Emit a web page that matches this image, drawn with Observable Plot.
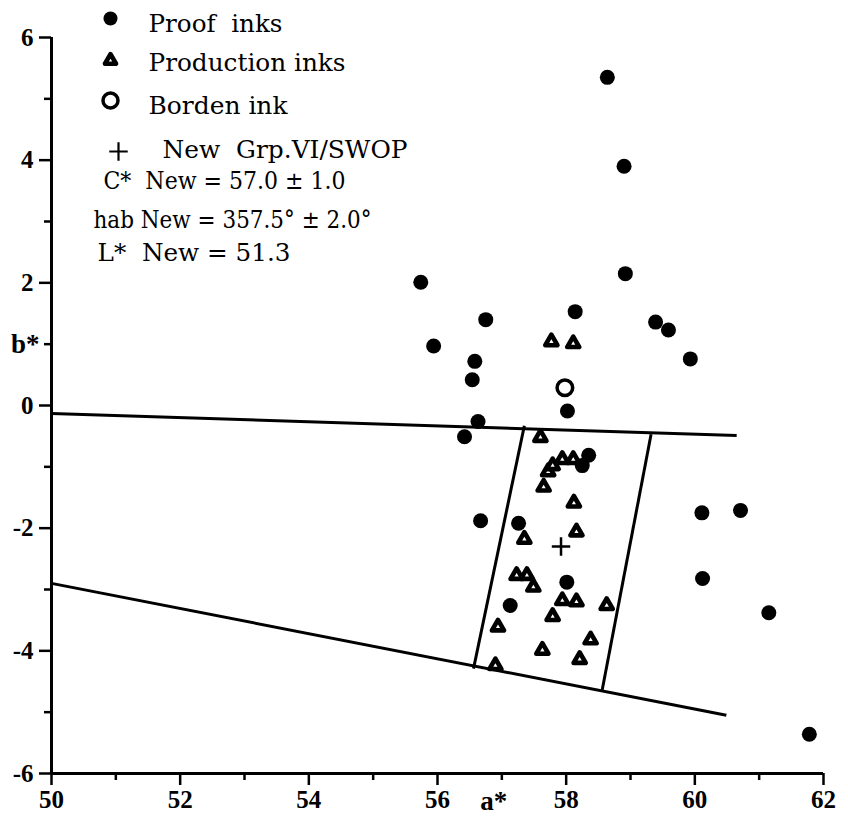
<!DOCTYPE html>
<html>
<head>
<meta charset="utf-8">
<script src="https://cdn.jsdelivr.net/npm/d3@7"></script>
<script src="https://cdn.jsdelivr.net/npm/@observablehq/plot@0.6"></script>
<style>
  html, body { margin: 0; padding: 0; background: #fff; }
  #chart { width: 848px; height: 829px; }
</style>
</head>
<body>
<div id="chart"></div>
<script>
// ---- Data (a*, b*) ----
const proofA = [58.64, 58.90, 58.92, 55.74, 58.14, 56.75, 55.94, 59.39, 59.59, 59.93, 56.58, 56.54, 58.02, 56.63, 56.42, 58.35, 58.25, 56.67, 57.26, 58.01, 57.13, 60.11, 60.71, 60.12, 61.15, 61.78];
const proofB = [5.35, 3.90, 2.15, 2.01, 1.53, 1.40, 0.97, 1.36, 1.23, 0.76, 0.72, 0.42, -0.09, -0.26, -0.51, -0.81, -0.98, -1.88, -1.92, -2.88, -3.26, -1.75, -1.71, -2.82, -3.38, -5.36];

const prodA = [57.77, 58.11, 57.60, 57.72, 57.79, 57.94, 58.11, 57.65, 58.12, 58.16, 57.35, 57.23, 57.39, 57.49, 57.94, 58.16, 58.63, 57.79, 56.94, 58.38, 57.63, 58.21, 56.90];
const prodB = [1.04, 1.01, -0.52, -1.08, -0.98, -0.88, -0.88, -1.33, -1.59, -2.06, -2.18, -2.77, -2.77, -2.96, -3.18, -3.20, -3.26, -3.44, -3.61, -3.82, -3.99, -4.14, -4.24];

const bordenA = [57.98];
const bordenB = [0.29];

const newA = [57.92];
const newB = [-2.30];

// tolerance boundary segments: [a1, b1] -> [a2, b2]
const boundaryA1 = [50.00, 50.00, 57.35, 59.32];
const boundaryB1 = [-0.13, -2.90, -0.33, -0.47];
const boundaryA2 = [60.65, 60.49, 56.56, 58.56];
const boundaryB2 = [-0.49, -5.05, -4.29, -4.64];

// ticks
const xMajorTicks = [50, 52, 54, 56, 58, 60, 62];
const xMinorTicks = [51, 53, 55, 57, 59, 61];
const yMajorTicks = [6, 4, 2, 0, -2, -4, -6];
const yMinorTicks = [5, 3, 1, -1, -3, -5];
const xLabel = "a*";
const yLabel = "b*";
const xLabelAt = 57;
const yLabelAt = 1;

const legendLabels = [
  "Proof\u00a0\u00a0inks",
  "Production inks",
  "Borden ink",
  "New\u00a0\u00a0Grp.VI/SWOP",
  "C*\u00a0\u00a0New = 57.0 \u00b1 1.0",
  "hab\u00a0New = 357.5\u00b0 \u00b1 2.0\u00b0",
  "L*\u00a0\u00a0New = 51.3"
];

// ---- tables ----
const zipAB = (A, B) => A.map((a, i) => ({a, b: B[i]}));
const proof = zipAB(proofA, proofB);
const prod = zipAB(prodA, prodB);
const borden = zipAB(bordenA, bordenB);
const newPt = zipAB(newA, newB);
const segs = boundaryA1.map((a1, i) => ({a1, b1: boundaryB1[i], a2: boundaryA2[i], b2: boundaryB2[i]}));

const serif = "Liberation Serif";
const legendFont = "DejaVu Serif";
const tickFont = {fontFamily: serif, fontWeight: "bold", fontSize: 25};

// legend layout (pixel offsets from the frame's top-left) and rendered widths
const legendOffsets = [[97, -6], [97, 33], [97, 76], [111, 120], [52, 151], [42, 190], [46, 223]];
const legendWidths = [134, 197, 139, 245, 242, 278, 193];

const legendMarks = legendLabels.map((t, i) => Plot.text([t], {
  text: d => d,
  frameAnchor: "top-left",
  dx: legendOffsets[i][0],
  dy: legendOffsets[i][1],
  textAnchor: "start",
  lineAnchor: "bottom",
  fontFamily: legendFont,
  fontSize: 24.5,
  fill: "black",
  className: "legend-row-" + i
}));

const chart = Plot.plot({
  width: 848,
  height: 829,
  marginLeft: 51,
  marginRight: 25,
  marginTop: 37,
  marginBottom: 56,
  x: {domain: [50, 62]},
  y: {domain: [-6, 6]},
  style: {background: "white", color: "black", fontFamily: serif, overflow: "visible"},
  marks: [
    // axes
    Plot.axisX({ticks: xMajorTicks, tickSize: 12, tickPadding: 5, tickFormat: d => String(d), strokeWidth: 2.5, label: null, ...tickFont}),
    Plot.axisX({ticks: xMinorTicks, tickSize: 7, tickFormat: () => "", strokeWidth: 2.5, label: null}),
    Plot.axisY({ticks: yMajorTicks, tickSize: 12, tickPadding: 6, tickFormat: d => String(d), strokeWidth: 2.5, label: null, ...tickFont}),
    Plot.axisY({ticks: yMinorTicks, tickSize: 7, tickFormat: () => "", strokeWidth: 2.5, label: null}),
    Plot.ruleX([50], {strokeWidth: 3}),
    Plot.ruleY([-6], {strokeWidth: 3}),
    Plot.text([xLabelAt], {x: d => d, text: () => xLabel, frameAnchor: "bottom", dy: 17, dx: -8, lineAnchor: "top", fontFamily: serif, fontWeight: "bold", fontSize: 27}),
    Plot.text([yLabelAt], {y: d => d, text: () => yLabel, frameAnchor: "left", dx: -12, textAnchor: "end", fontFamily: serif, fontWeight: "bold", fontSize: 27}),
    // tolerance boundaries
    Plot.link(segs, {x1: "a1", y1: "b1", x2: "a2", y2: "b2", stroke: "black", strokeWidth: 3}),
    // data
    Plot.dot(proof, {x: "a", y: "b", r: 7.5, fill: "black", stroke: "none"}),
    Plot.dot(prod, {x: "a", y: "b", symbol: "triangle", r: 4.5, fill: "white", stroke: "black", strokeWidth: 4.6, strokeLinejoin: "round"}),
    Plot.dot(borden, {x: "a", y: "b", r: 7.8, fill: "white", stroke: "black", strokeWidth: 3.5}),
    Plot.dot(newPt, {x: "a", y: "b", symbol: "plus", r: 6, stroke: "black", strokeWidth: 2.5}),
    // legend markers
    Plot.dot([0], {frameAnchor: "top-left", dx: 59, dy: -19, r: 7, fill: "black", stroke: "none"}),
    Plot.dot([0], {frameAnchor: "top-left", dx: 59, dy: 23, symbol: "triangle", r: 4.1, fill: "white", stroke: "black", strokeWidth: 4.6, strokeLinejoin: "round"}),
    Plot.dot([0], {frameAnchor: "top-left", dx: 59, dy: 63, r: 7.5, fill: "white", stroke: "black", strokeWidth: 3.5}),
    Plot.dot([0], {frameAnchor: "top-left", dx: 67, dy: 114, symbol: "plus", r: 6, stroke: "black", strokeWidth: 2.2}),
    ...legendMarks
  ]
});

// match the typeset widths of the legend lines
legendWidths.forEach((w, i) => {
  chart.querySelectorAll(".legend-row-" + i + " text").forEach(t => {
    t.setAttribute("textLength", w);
    t.setAttribute("lengthAdjust", "spacingAndGlyphs");
  });
});

document.getElementById("chart").appendChild(chart);
</script>
</body>
</html>
